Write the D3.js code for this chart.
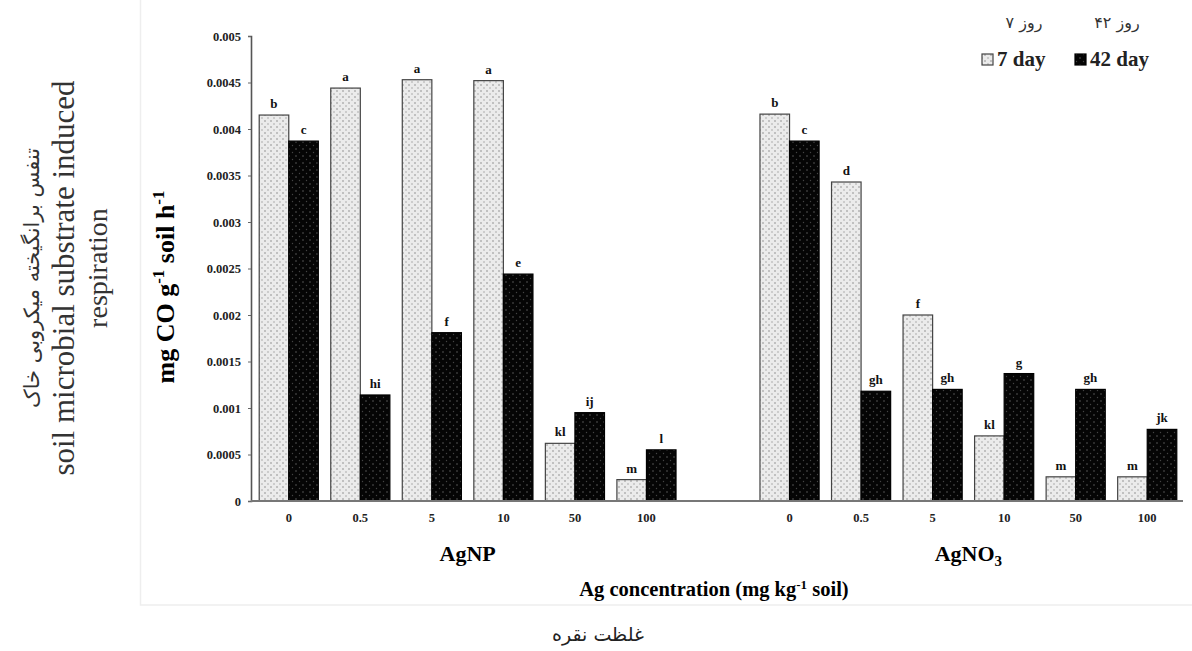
<!DOCTYPE html>
<html>
<head>
<meta charset="utf-8">
<script src="https://cdn.jsdelivr.net/npm/d3@7"></script>
<style>
  html, body { margin: 0; padding: 0; background: #fff; }
  svg { display: block; }
  .serif { font-family: "Liberation Serif", "Times New Roman", serif; }
  .fa { font-family: "DejaVu Sans", "Noto Sans", sans-serif; }
</style>
</head>
<body>
<svg id="chart" width="1192" height="651"></svg>
<script>
'use strict';

// data
var concentrations = ["0", "0.5", "5", "10", "50", "100"];
var treatments = ["AgNP", "AgNO3"];
var day7AgNP = [0.00415, 0.00444, 0.00453, 0.00452, 0.00062, 0.00023];
var day42AgNP = [0.00387, 0.00114, 0.00181, 0.00244, 0.00095, 0.00055];
var day7AgNO3 = [0.00416, 0.00343, 0.00200, 0.00070, 0.00026, 0.00026];
var day42AgNO3 = [0.00387, 0.00118, 0.00120, 0.00137, 0.00120, 0.00077];
var letters7AgNP = ["b", "a", "a", "a", "kl", "m"];
var letters42AgNP = ["c", "hi", "f", "e", "ij", "l"];
var letters7AgNO3 = ["b", "d", "f", "kl", "m", "m"];
var letters42AgNO3 = ["c", "gh", "gh", "g", "gh", "jk"];
var yTicks = [0, 0.0005, 0.001, 0.0015, 0.002, 0.0025, 0.003, 0.0035, 0.004, 0.0045, 0.005];
var seriesKeys = ["d7", "d42"];

var svg = d3.select("#chart");

// faint frame around the chart area
svg.append("rect")
    .attr("x", 140.5).attr("y", -2)
    .attr("width", 1060).attr("height", 607)
    .attr("fill", "none")
    .attr("stroke", "#eeeeee")
    .attr("stroke-width", 1.5);

// patterns
var defs = svg.append("defs");
var p7 = defs.append("pattern")
    .attr("id", "pat7")
    .attr("patternUnits", "userSpaceOnUse")
    .attr("width", 6).attr("height", 6);
p7.append("rect").attr("width", 6).attr("height", 6).attr("fill", "#ebebeb");
p7.append("rect").attr("x", 0).attr("y", 0).attr("width", 2).attr("height", 2).attr("fill", "#c0c0c0");
p7.append("rect").attr("x", 3).attr("y", 3).attr("width", 2).attr("height", 2).attr("fill", "#cccccc");

var p42 = defs.append("pattern")
    .attr("id", "pat42")
    .attr("patternUnits", "userSpaceOnUse")
    .attr("width", 7).attr("height", 7);
p42.append("rect").attr("width", 7).attr("height", 7).attr("fill", "#050505");
p42.append("circle").attr("cx", 2).attr("cy", 2).attr("r", 0.8).attr("fill", "#5a5a5a");
p42.append("circle").attr("cx", 5.5).attr("cy", 5.5).attr("r", 0.7).attr("fill", "#444");

// scales
var slots = [];
treatments.forEach(function (t, ti) {
    if (ti > 0) slots.push("gap");
    concentrations.forEach(function (c) { slots.push(t + "|" + c); });
});

var x = d3.scaleBand().domain(slots).range([253, 1183]).padding(0);
var xs = d3.scaleBand().domain(seriesKeys).range([0, x.bandwidth()]).paddingInner(0).paddingOuter(0.21);
var y = d3.scaleLinear().domain([0, 0.005]).range([501, 36]);

// rows for bars
function rows(t, v7, v42, l7, l42) {
    var out = [];
    concentrations.forEach(function (c, i) {
        out.push({slot: t + "|" + c, key: "d7", value: v7[i], letter: l7[i]});
        out.push({slot: t + "|" + c, key: "d42", value: v42[i], letter: l42[i]});
    });
    return out;
}
var barData = rows("AgNP", day7AgNP, day42AgNP, letters7AgNP, letters42AgNP)
    .concat(rows("AgNO3", day7AgNO3, day42AgNO3, letters7AgNO3, letters42AgNO3));

// y axis
var yAxis = d3.axisLeft(y)
    .tickValues(yTicks)
    .tickSize(3)
    .tickPadding(7)
    .tickFormat(function (d) { return d === 0 ? "0" : String(+d.toFixed(4)); });

var gy = svg.append("g")
    .attr("transform", "translate(251,0)")
    .call(yAxis);
gy.select(".domain").attr("stroke", "#555").attr("stroke-width", 1.6);
gy.selectAll(".tick line").attr("stroke", "#666").attr("stroke-width", 1);
gy.selectAll(".tick text")
    .attr("font-size", 12.5)
    .attr("font-weight", "bold")
    .attr("fill", "#222")
    .attr("font-family", "Liberation Serif, serif");

// bars
var bars = svg.append("g");
bars.selectAll("rect")
    .data(barData)
    .enter()
    .append("rect")
    .attr("x", function (d) { return x(d.slot) + xs(d.key); })
    .attr("y", function (d) { return y(d.value); })
    .attr("width", xs.bandwidth())
    .attr("height", function (d) { return y(0) - y(d.value); })
    .attr("fill", function (d) { return d.key === "d7" ? "url(#pat7)" : "url(#pat42)"; })
    .attr("stroke", function (d) { return d.key === "d7" ? "#444" : "#000"; })
    .attr("stroke-width", 1.2);

// letters over bars
bars.selectAll("text")
    .data(barData)
    .enter()
    .append("text")
    .attr("class", "serif")
    .attr("x", function (d) { return x(d.slot) + xs(d.key) + xs.bandwidth() / 2; })
    .attr("y", function (d) { return y(d.value) - 7; })
    .attr("text-anchor", "middle")
    .attr("font-size", 13)
    .attr("font-weight", "bold")
    .attr("fill", "#111")
    .text(function (d) { return d.letter; });

// baseline
svg.append("line")
    .attr("x1", 251).attr("x2", 1183)
    .attr("y1", y(0)).attr("y2", y(0))
    .attr("stroke", "#777")
    .attr("stroke-width", 2);

// x tick labels
var xAxis = d3.axisBottom(x)
    .tickSize(0)
    .tickPadding(12)
    .tickFormat(function (d) { return d === "gap" ? "" : d.split("|")[1]; });
var gx = svg.append("g")
    .attr("transform", "translate(0," + y(0) + ")")
    .call(xAxis);
gx.select(".domain").remove();
gx.selectAll(".tick text")
    .attr("font-size", 12.5)
    .attr("font-weight", "bold")
    .attr("fill", "#222")
    .attr("font-family", "Liberation Serif, serif");

// group labels
function groupCenter(t) {
    var first = x(t + "|" + concentrations[0]);
    var last = x(t + "|" + concentrations[concentrations.length - 1]) + x.bandwidth();
    return (first + last) / 2;
}
svg.append("text")
    .attr("class", "serif")
    .attr("x", groupCenter("AgNP"))
    .attr("y", 561)
    .attr("text-anchor", "middle")
    .attr("font-size", 22)
    .attr("font-weight", "bold")
    .text("AgNP");
var no3 = svg.append("text")
    .attr("class", "serif")
    .attr("x", groupCenter("AgNO3"))
    .attr("y", 561)
    .attr("text-anchor", "middle")
    .attr("font-size", 22)
    .attr("font-weight", "bold");
no3.append("tspan").text("AgNO");
no3.append("tspan").attr("dy", 5).attr("font-size", 15).text("3");

// x title
var xt = svg.append("text")
    .attr("class", "serif")
    .attr("x", 714)
    .attr("y", 596)
    .attr("text-anchor", "middle")
    .attr("font-size", 20.5)
    .attr("font-weight", "bold");
xt.append("tspan").text("Ag concentration (mg kg");
xt.append("tspan").attr("dy", -7).attr("font-size", 13).text("-1");
xt.append("tspan").attr("dy", 7).text(" soil)");

svg.append("text")
    .attr("class", "fa")
    .attr("x", 598)
    .attr("y", 641)
    .attr("text-anchor", "middle")
    .attr("font-size", 19)
    .attr("fill", "#222")
    .text("غلظت نقره");

// y title (units)
var yt = svg.append("text")
    .attr("class", "serif")
    .attr("transform", "translate(174,287) rotate(-90)")
    .attr("text-anchor", "middle")
    .attr("font-size", 26)
    .attr("font-weight", "bold");
yt.append("tspan").text("mg CO  g");
yt.append("tspan").attr("dy", -10).attr("font-size", 17).text("-1");
yt.append("tspan").attr("dy", 10).text(" soil h");
yt.append("tspan").attr("dy", -10).attr("font-size", 17).text("-1");

// left title (three lines)
var lt = svg.append("g").attr("transform", "translate(0,278)");
lt.append("text")
    .attr("class", "fa")
    .attr("transform", "translate(39,0) rotate(-90)")
    .attr("text-anchor", "middle")
    .attr("font-size", 21)
    .attr("fill", "#333")
    .text("تنفس برانگیخته میکروبی خاک");
lt.append("text")
    .attr("class", "serif")
    .attr("transform", "translate(74,0) rotate(-90)")
    .attr("text-anchor", "middle")
    .attr("font-size", 31)
    .attr("fill", "#333")
    .text("soil microbial substrate induced");
lt.append("text")
    .attr("class", "serif")
    .attr("transform", "translate(107,-10) rotate(-90)")
    .attr("text-anchor", "middle")
    .attr("font-size", 28)
    .attr("fill", "#333")
    .text("respiration");

// legend
var legendItems = [
    {key: "d7", fa: "روز ۷", en: "7 day", x: 982},
    {key: "d42", fa: "روز ۴۲", en: "42 day", x: 1075}
];
var lg = svg.append("g");
legendItems.forEach(function (it) {
    lg.append("text")
        .attr("class", "fa")
        .attr("x", it.x + 42)
        .attr("y", 28)
        .attr("text-anchor", "middle")
        .attr("font-size", 16)
        .attr("fill", "#333")
        .text(it.fa);
    lg.append("rect")
        .attr("x", it.x).attr("y", 54)
        .attr("width", 11).attr("height", 11)
        .attr("fill", it.key === "d7" ? "url(#pat7)" : "url(#pat42)")
        .attr("stroke", it.key === "d7" ? "#444" : "#000")
        .attr("stroke-width", 1.2);
    lg.append("text")
        .attr("class", "serif")
        .attr("x", it.x + 15)
        .attr("y", 66)
        .attr("font-size", 21)
        .attr("font-weight", "bold")
        .attr("fill", "#222")
        .text(it.en);
});
</script>
</body>
</html>
